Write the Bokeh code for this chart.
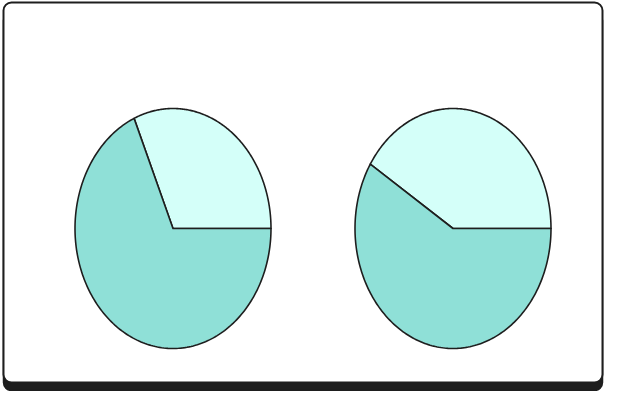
import numpy as np
from bokeh.plotting import figure
from bokeh.models import Range1d, BoxAnnotation, ColumnDataSource
from bokeh.embed import file_html
from bokeh.resources import INLINE

# --- data ---
pies = ["A", "B"]
light_share = [31.5, 41.0]   # light slice (starts at 3 o'clock, counterclockwise)
dark_share = [68.5, 59.0]
colors = ["#d4fff9", "#8fe0d7"]

W, H = 605, 391
PX_X, PX_Y = 98.0, 120.0          # pixels per unit radius
cx_px, cy_px = 172.5, 228.0       # left pie centre in figure pixels
gap = 280.0 / PX_X                # distance between pie centres (units)

x0 = -cx_px / PX_X
y1 = cy_px / PX_Y
p = figure(width=W, height=H, output_backend="svg", toolbar_location=None,
           x_range=Range1d(x0, x0 + W / PX_X), y_range=Range1d(y1 - H / PX_Y, y1),
           min_border=0)
p.axis.visible = False
p.grid.visible = False
p.outline_line_color = None
p.background_fill_color = "white"
p.border_fill_color = "white"


def dx(px):
    return (px - cx_px) / PX_X


def dy(py):
    return (cy_px - py) / PX_Y


# card with shadow
shadow = BoxAnnotation(left=dx(3), right=dx(602), top=dy(12), bottom=dy(390),
                       fill_color="#1e1e1e", fill_alpha=1, line_color="#1e1e1e",
                       line_alpha=1, line_width=1.5, border_radius=8, level="underlay")
card = BoxAnnotation(left=dx(3), right=dx(602), top=dy(2), bottom=dy(382),
                     fill_color="white", fill_alpha=1, line_color="#1e1e1e",
                     line_alpha=1, line_width=2, border_radius=8, level="underlay")
p.add_layout(shadow)
p.add_layout(card)

xs, ys, fills = [], [], []
for i, name in enumerate(pies):
    total = light_share[i] + dark_share[i]
    vals = [light_share[i], dark_share[i]]
    start = 0.0
    cx = i * gap
    for j, v in enumerate(vals):
        a0 = start
        a1 = start + 2 * np.pi * v / total
        t = np.linspace(a0, a1, 200)
        xs.append([cx] + list(cx + np.cos(t)) + [cx])
        ys.append([0.0] + list(np.sin(t)) + [0.0])
        fills.append(colors[j])
        start = a1

src = ColumnDataSource(dict(xs=xs, ys=ys, fill=fills))
p.patches("xs", "ys", source=src, fill_color="fill", line_color="#1e1e1e",
          line_width=1.6, line_join="round")

open("out.html", "w").write(file_html(p, INLINE))
